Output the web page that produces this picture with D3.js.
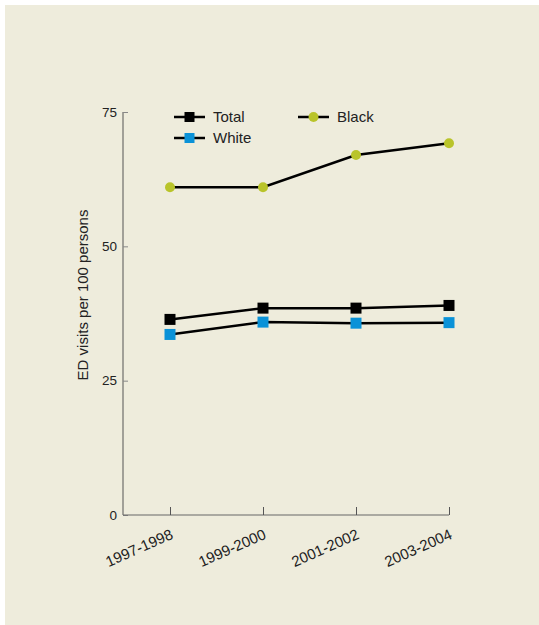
<!DOCTYPE html>
<html><head><meta charset="utf-8">
<script src="https://cdn.jsdelivr.net/npm/d3@7"></script>
<style>body{margin:0;background:#fff}svg{display:block}</style>
</head><body>
<script>
const categories = ["1997-1998","1999-2000","2001-2002","2003-2004"];
const totalValues = [36.4, 38.5, 38.5, 39.0];
const whiteValues = [33.6, 35.9, 35.7, 35.8];
const blackValues = [61.0, 61.0, 67.0, 69.2];
const yTicks = [0, 25, 50, 75];
const seriesNames = ["Total","White","Black"];

const W = 539, H = 625;
const svg = d3.select("body").append("svg").attr("width", W).attr("height", H);
svg.append("rect").attr("x",5).attr("y",5).attr("width",W-5).attr("height",H-5).attr("fill","#eeecdc");

const x = d3.scalePoint().domain(categories).range([170, 449]);
const y = d3.scaleLinear().domain([0,75]).range([515, 112]);
const font = "Liberation Sans, Arial, sans-serif";

// y axis
const ya = svg.append("g").attr("transform","translate(123,0)")
  .call(d3.axisRight(y).tickValues(yTicks).tickSize(5).tickFormat(""));
ya.select(".domain").attr("stroke","#555").attr("d","M0,"+y(75)+"V"+y(0));
ya.selectAll(".tick line").attr("stroke","#888");
svg.append("g").selectAll("text").data(yTicks).join("text")
  .attr("x",117).attr("y",d=>y(d)).attr("dy","0.35em").attr("text-anchor","end")
  .attr("font-family",font).attr("font-size",13.5).attr("fill","#222").text(d=>d);

// x axis
const xa = svg.append("g").attr("transform","translate(0,515)")
  .call(d3.axisTop(x).tickSize(8).tickFormat(""));
xa.select(".domain").attr("stroke","#666").attr("d","M123,0H449");
xa.selectAll(".tick line").attr("stroke","#555");
svg.append("g").selectAll("text").data(categories).join("text")
  .attr("transform",d=>`translate(${x(d)+4},${538}) rotate(-24)`)
  .attr("text-anchor","end")
  .attr("font-family",font).attr("font-size",15).attr("fill","#222").text(d=>d);

// y label
svg.append("text").attr("transform","translate(88,295) rotate(-90)")
  .attr("text-anchor","middle").attr("font-family",font).attr("font-size",15).attr("fill","#222")
  .text("ED visits per 100 persons");

const line = d3.line().x((d,i)=>x(categories[i])).y(d=>y(d));
const series = [
  {name:"Total", values: totalValues, color:"#000000", shape:"square"},
  {name:"White", values: whiteValues, color:"#0a92d8", shape:"square"},
  {name:"Black", values: blackValues, color:"#b9c42a", shape:"circle"}
];
series.forEach(s=>{
  svg.append("path").attr("d", line(s.values)).attr("fill","none").attr("stroke","#000").attr("stroke-width",2.5);
  const g = svg.append("g");
  if (s.shape==="square") {
    g.selectAll("rect").data(s.values).join("rect")
      .attr("x",(d,i)=>x(categories[i])-5.5).attr("y",d=>y(d)-5.5)
      .attr("width",11).attr("height",11).attr("fill",s.color);
  } else {
    g.selectAll("circle").data(s.values).join("circle")
      .attr("cx",(d,i)=>x(categories[i])).attr("cy",d=>y(d)).attr("r",5).attr("fill",s.color);
  }
});

// legend
const legendPos = [[174,117],[174,138],[298,117]];
series.forEach((s,i)=>{
  const [lx,ly] = legendPos[seriesNames.indexOf(s.name)];
  const g = svg.append("g");
  g.append("line").attr("x1",lx).attr("x2",lx+31).attr("y1",ly).attr("y2",ly).attr("stroke","#000").attr("stroke-width",2.5);
  if (s.shape==="square") g.append("rect").attr("x",lx+15.5-5).attr("y",ly-5).attr("width",10).attr("height",10).attr("fill",s.color);
  else g.append("circle").attr("cx",lx+15.5).attr("cy",ly).attr("r",5).attr("fill",s.color);
  g.append("text").attr("x",lx+39).attr("y",ly).attr("dy","0.35em").attr("font-family",font).attr("font-size",15).attr("fill","#222").text(s.name);
});
</script>
</body></html>
